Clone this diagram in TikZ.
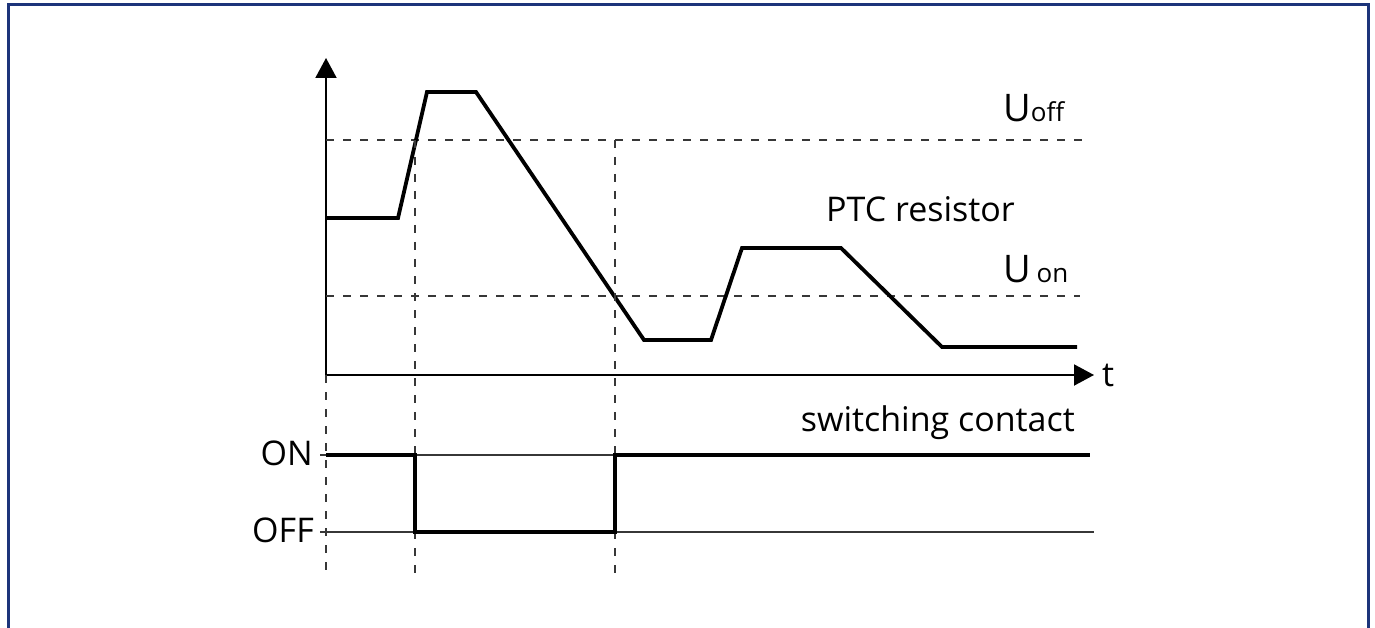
\documentclass[tikz,border=0pt]{standalone}
\usepackage{fontspec}
\setmainfont{Open Sans}
\usetikzlibrary{arrows.meta}
\definecolor{frameblue}{RGB}{28,52,122}
\definecolor{thingray}{RGB}{55,55,55}
\tikzset{
  guide/.style={thingray,line width=1.4pt,dash pattern=on 8pt off 9pt},
  level/.style={thingray,line width=1.3pt},
  curve/.style={black,line width=3.8pt,line join=miter},
  axisline/.style={black,line width=2pt,-{Triangle[length=20pt,width=21pt]}},
  lbl/.style={inner sep=0pt,font=\fontsize{34}{38}\selectfont},
}
\newcommand{\bigU}{{\fontsize{38}{40}\selectfont U}}
\newcommand{\subtxt}[1]{{\fontsize{26}{28}\selectfont #1}}
\begin{document}
\begin{tikzpicture}[x=1pt,y=-1pt]
    \useasboundingbox(0,0)rectangle(1375,628);
    \draw[frameblue,line width=3pt](8,660)--(8,5)--(1368,5)--(1368,660);

    % axes
    \coordinate(o)at(326,375);
    \coordinate(ytop)at(326,58);
    \coordinate(tend)at(1094,375);
    \draw[axisline](o)--(ytop);
    \draw[axisline](o)--(tend);

    % thresholds
    \coordinate(off1)at(326,140);
    \coordinate(off2)at(1085,140);
    \coordinate(on1)at(326,296);
    \coordinate(on2)at(1080,296);
    \draw[guide](off1)--(off2);
    \draw[guide](on1)--(on2);

    % PTC resistor voltage
    \coordinate(p1)at(326,218);
    \coordinate(p2)at(398,218);
    \coordinate(p3)at(427,92);
    \coordinate(p4)at(476,92);
    \coordinate(p5)at(644,340);
    \coordinate(p6)at(711,340);
    \coordinate(p7)at(742,248);
    \coordinate(p8)at(841,248);
    \coordinate(p9)at(942,347);
    \coordinate(p10)at(1077,347);
    \draw[curve](p1)\foreach\i in{2,...,10}{--(p\i)};

    % switching instants
    \coordinate(v1a)at(326,375);
    \coordinate(v1b)at(326,578);
    \coordinate(v2a)at(415,140);
    \coordinate(v2b)at(415,578);
    \coordinate(v3a)at(615,140);
    \coordinate(v3b)at(615,578);
    \foreach\v in{v1,v2,v3}\draw[guide](\v a)--(\v b);

    % switching contact
    \coordinate(son1)at(320,455);
    \coordinate(son2)at(1090,455);
    \coordinate(soff1)at(320,532);
    \coordinate(soff2)at(1094,532);
    \draw[level](son1)--(son2);
    \draw[level](soff1)--(soff2);
    \coordinate(s1)at(326,455);
    \coordinate(s2)at(415,455);
    \coordinate(s3)at(415,532);
    \coordinate(s4)at(615,532);
    \coordinate(s5)at(615,455);
    \coordinate(s6)at(1090,455);
    \draw[curve](s1)\foreach\i in{2,...,6}{--(s\i)};

    % labels
    \node[lbl,anchor=base west](uoff)at(1003,122){\bigU\subtxt{off}};
    \node[lbl,anchor=base west](uon)at(1003,283){\bigU\,\subtxt{on}};
    \node[lbl,anchor=base west](ptc)at(826,222){PTC resistor};
    \node[lbl,anchor=base west](tlab)at(1102,386){t};
    \node[lbl,anchor=base east](sw)at(1075,431){switching contact};
    \node[lbl,anchor=base east](onlab)at(313,465){ON};
    \node[lbl,anchor=base east](offlab)at(314,542){OFF};
  \end{tikzpicture}
\end{document}
